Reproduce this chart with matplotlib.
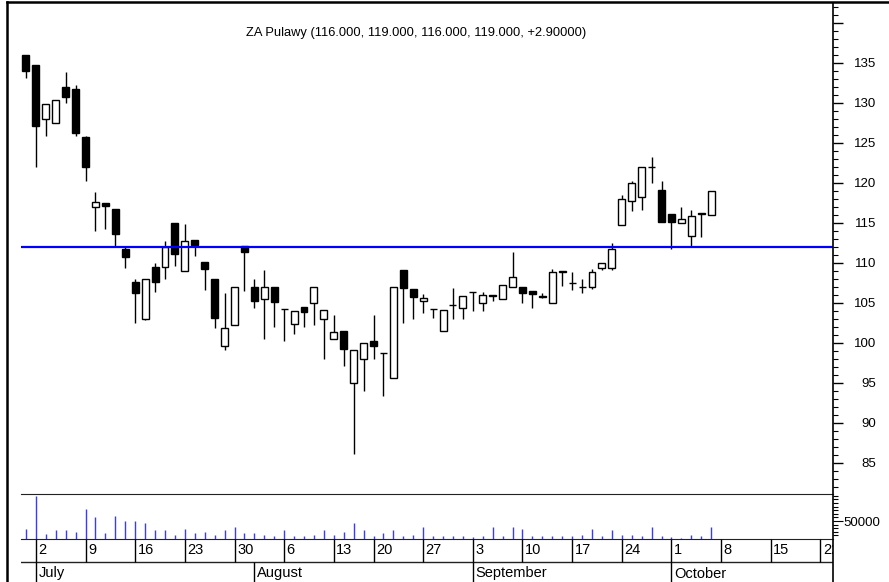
import matplotlib
matplotlib.use('Agg')
import matplotlib.pyplot as plt
from matplotlib.lines import Line2D
from matplotlib.ticker import MultipleLocator, FixedLocator

plt.rcParams['font.family'] = ['Liberation Sans Narrow', 'Liberation Sans', 'DejaVu Sans']

# daily OHLC, 29 Jun .. 5 Oct (trading days only, 15 Aug holiday)
opens = [136.0, 134.75, 128.0, 127.5, 132.0, 131.8, 125.8, 117.0, 117.5, 116.7,
         111.8, 107.6, 103.0, 109.5, 109.5, 115.0, 109.0, 112.9, 110.1, 108.0,
         99.6, 102.2, 112.1, 107.0, 105.5, 107.0, 104.25, 102.4, 104.5, 105.0,
         103.0, 100.5, 101.5, 95.0, 98.0, 100.25, 98.7, 95.6, 109.1, 106.7,
         105.2, 104.25, 101.5, 104.7, 104.4, 106.3, 105.0, 105.9, 105.5, 107.0,
         107.0, 106.5, 105.9, 105.0, 108.9, 107.5, 107.0, 107.0, 109.4, 109.4,
         114.75, 117.7, 118.2, 122.0, 119.1, 116.1, 115.0, 113.4, 116.3, 116.0]
highs = [136.0, 134.75, 129.9, 130.4, 133.9, 132.2, 125.9, 118.9, 117.5, 116.7,
         112.0, 108.0, 108.0, 110.0, 112.8, 115.0, 114.9, 112.9, 110.1, 108.0,
         106.2, 107.0, 112.1, 108.0, 109.1, 107.0, 104.25, 104.0, 104.5, 107.0,
         104.1, 103.5, 101.5, 99.1, 100.0, 103.5, 98.7, 107.0, 109.1, 106.7,
         106.1, 104.25, 104.1, 106.8, 105.9, 106.3, 106.3, 105.9, 107.25, 111.3,
         107.0, 106.5, 106.2, 109.2, 108.9, 108.9, 108.0, 109.2, 110.0, 112.5,
         118.5, 120.3, 122.0, 123.3, 120.25, 116.1, 117.0, 116.6, 116.3, 119.0]
lows = [133.1, 122.0, 125.9, 127.5, 130.0, 125.9, 120.2, 114.0, 114.2, 112.0,
        109.4, 102.5, 102.9, 106.4, 108.0, 109.6, 109.0, 110.9, 106.6, 101.8,
        99.1, 102.2, 106.5, 104.4, 100.5, 102.0, 100.2, 101.1, 102.0, 102.2,
        98.0, 100.5, 97.1, 86.1, 94.0, 98.0, 93.3, 95.6, 102.5, 103.0,
        103.7, 103.1, 101.5, 103.0, 103.0, 104.0, 104.0, 105.2, 105.5, 107.0,
        105.0, 104.3, 105.6, 105.0, 107.1, 106.6, 106.2, 106.7, 109.1, 109.1,
        114.75, 116.5, 116.6, 120.0, 115.1, 111.8, 115.0, 112.0, 113.2, 116.0]
closes = [134.0, 127.1, 129.9, 130.4, 130.7, 126.3, 122.0, 117.6, 117.1, 113.6,
          110.7, 106.2, 108.0, 107.6, 112.0, 111.1, 112.8, 112.2, 109.2, 103.1,
          101.8, 107.0, 111.3, 105.2, 107.0, 105.1, 104.25, 104.0, 103.8, 107.0,
          104.1, 101.3, 99.2, 99.1, 100.0, 99.6, 98.7, 107.0, 106.8, 105.7,
          105.6, 104.25, 104.1, 104.7, 105.9, 106.3, 106.0, 105.9, 107.25, 108.2,
          106.2, 106.1, 105.7, 108.9, 108.9, 107.5, 107.0, 108.9, 110.0, 111.7,
          118.0, 120.0, 122.0, 122.0, 115.1, 115.1, 115.5, 115.9, 116.1, 119.0]
volumes = [28000, 120000, 15000, 24000, 24000, 20000, 82000, 62000, 17000, 65000,
           50000, 50000, 45000, 24000, 24000, 12000, 28000, 17000, 20000, 12000,
           24000, 33000, 17000, 17000, 12000, 7500, 24000, 7500, 7500, 12000,
           24000, 12000, 20000, 45000, 24000, 7500, 17000, 24000, 7500, 12000,
           33000, 7500, 7500, 7500, 7500, 5600, 7500, 33000, 7500, 33000,
           28000, 7500, 7500, 7500, 7500, 7500, 12000, 28000, 7500, 24000,
           12000, 12000, 7500, 33000, 7500, 5600, 2800, 12000, 7500, 33000]

support = 112.0
title = 'ZA Pulawy (116.000, 119.000, 116.000, 119.000, +2.90000)'

# weekly (Monday) labels as trading-day index, and month starts
week_idx = [1, 6, 11, 16, 21, 26, 31, 35, 40, 45, 50, 55, 60, 65, 70, 75, 80]
week_lbl = ['2', '9', '16', '23', '30', '6', '13', '20', '27', '3', '10', '17',
            '24', '1', '8', '15', '22']
month_idx = [1, 23, 45, 65]
month_lbl = ['July', 'August', 'September', 'October']

W, H = 889, 582
def box(x0, y0, x1, y1):
    return [x0 / W, 1 - y1 / H, (x1 - x0) / W, (y1 - y0) / H]

fig = plt.figure(figsize=(W / 100, H / 100), dpi=100)
XL = (-0.5, 81.27)

# price panel
ax = fig.add_axes(box(21, 3, 833, 494))
n = len(opens)
x = list(range(n))
ax.vlines(x, lows, highs, color='black', lw=1, zorder=2)
for i in x:
    o, c = opens[i], closes[i]
    h = abs(c - o)
    ax.bar(i, max(h, 0.04), bottom=min(o, c), width=0.7,
           color='black' if c < o else 'white', edgecolor='black', lw=1.0, zorder=3)
ax.axhline(support, color='#0000ff', lw=1.6, zorder=4)
ax.set_xlim(*XL)
ax.set_ylim(81.1, 142.5)
for s in ['left', 'top', 'bottom', 'right']:
    ax.spines[s].set_visible(False)
ax.set_xticks([])
ax.yaxis.tick_right()
ax.yaxis.set_minor_locator(MultipleLocator(1))
ax.tick_params(axis='y', which='major', direction='out', length=7, width=1, pad=24, labelsize=9.5)
ax.tick_params(axis='y', which='minor', direction='out', length=3.5, width=0.8)
ax.set_yticks(range(85, 145, 5))
ax.set_yticklabels([str(v) if v <= 135 else '' for v in range(85, 145, 5)])
for t in ax.get_yticklabels():
    t.set_horizontalalignment('right')

# volume panel
av = fig.add_axes(box(21, 494, 833, 539))
av.vlines(x, 0, volumes, color='#3a3aff', lw=1)
av.set_xlim(*XL)
av.set_ylim(0, 125000)
av.set_xticks([])
for s in ['left', 'right']:
    av.spines[s].set_visible(False)
av.spines['top'].set_color('#222222')
av.spines['bottom'].set_color('#222222')
av.yaxis.tick_right()
av.yaxis.set_major_locator(FixedLocator([50000]))
av.yaxis.set_minor_locator(FixedLocator([10000, 20000, 30000, 40000, 60000, 70000,
                                         80000, 90000, 100000, 110000, 120000]))
av.tick_params(axis='y', which='major', direction='out', length=7, pad=27, labelsize=9.5)
av.tick_params(axis='y', which='minor', direction='out', length=3.5, width=0.8)
for t in av.get_yticklabels():
    t.set_horizontalalignment('right')

# date rows
ad = fig.add_axes(box(21, 539, 833, 582))
ad.set_xlim(*XL)
ad.set_ylim(0, 43)
ad.axis('off')
ad.axhline(20, color='#222222', lw=1)
ad.vlines(week_idx, 20, 43, color='black', lw=1)
for i, lbl in zip(week_idx, week_lbl):
    ad.text(i + 0.25, 31.5, lbl, ha='left', va='center', fontsize=10.5, clip_on=True)
ad.vlines(month_idx, 0, 20, color='black', lw=1)
for i, lbl in zip(month_idx, month_lbl):
    ad.text(i + 0.25, 8.5, lbl, ha='left', va='center', fontsize=10.5)

# frame lines
fig.add_artist(Line2D([833 / W, 833 / W], [0, 1 - 3 / H], color='black', lw=1.2))
fig.add_artist(Line2D([7 / W, 7 / W], [0, 1 - 2 / H], color='black', lw=1.8))
fig.add_artist(Line2D([7 / W, 1], [1 - 2 / H, 1 - 2 / H], color='black', lw=1.8))

fig.text(416 / W, 1 - 33 / H, title, ha='center', va='center', fontsize=9.3)

fig.savefig('out.png', dpi=100)
